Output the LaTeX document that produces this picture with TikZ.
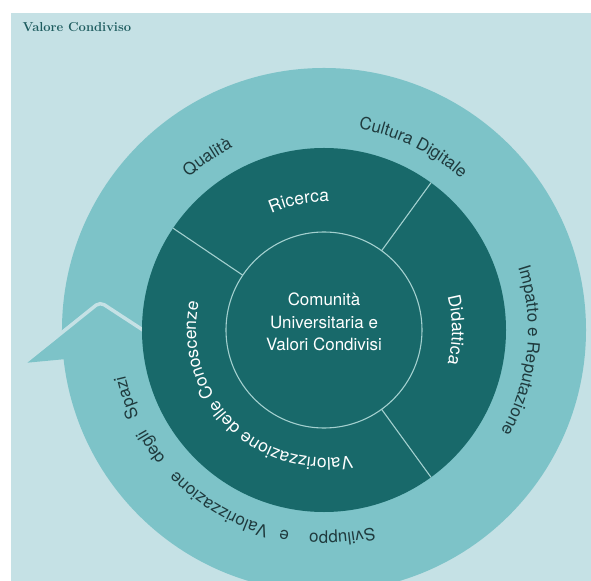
\documentclass[tikz,border=0pt]{standalone}
\usepackage{fontspec}
\setsansfont{TeX Gyre Heros}
\usepackage{tikz}
\usetikzlibrary{calc}
\usetikzlibrary{positioning}
\usetikzlibrary{decorations.text}

\definecolor{paleteal}{HTML}{C5E1E5}
\definecolor{ringteal}{HTML}{7DC3C8}
\definecolor{deepteal}{HTML}{18696A}
\definecolor{rimline}{HTML}{A3D0CF}
\definecolor{ringink}{HTML}{1F3A3D}
\definecolor{headteal}{HTML}{1D5C5F}

\newcommand{\ringfont}{\sffamily\fontsize{17}{20}\selectfont}
\newcommand{\hubfont}{\sffamily\fontsize{17.5}{20}\selectfont}

\begin{document}
\begin{tikzpicture}[x=1bp,y=1bp]
\tikzstyle{disc}=[circle,inner sep=0pt,outer sep=0pt]
\tikzstyle{arclabel}=[decorate,decoration={text along path,text align=center}]
\tikzstyle{rim}=[draw=rimline,line width=1.1bp]

\useasboundingbox (-324,-251) rectangle (267,330);
\clip (-324,-251) rectangle (267,330);
\fill[paleteal] (-313,-251) rectangle (267,317);
\node[anchor=base west,text=headteal,font=\bfseries\fontsize{13}{15}\selectfont] (title) at (-305,298) {Valore Condiviso};

\node[disc,fill=ringteal,minimum size=524bp] (loop) at (0,0) {};
\fill[ringteal,rounded corners=5bp] (-300,-33) -- (-224,28) -- (-152,-19) -- cycle;
\draw[paleteal,line width=3.5bp,rounded corners=5bp] (-300,-33) -- (-224,28) -- (-152,-19);

\node[disc,fill=deepteal,minimum size=364bp] (hub) at (0,0) {};
\node[disc,rim,minimum size=196bp] (core) at (0,0) {};
\node[text=white,align=center,font=\sffamily\fontsize{17}{22.5}\selectfont] (motto) at (0,8) {Comunità\\Universitaria e\\Valori Condivisi};

\foreach \a in {146,54,-54}
  \draw[rim] (core.\a) -- (hub.\a);

% outer ring, read clockwise
\path[arclabel,decoration={text={|\ringfont\color{ringink}|Qualità}}] (154:204bp) arc[start angle=154,end angle=94,radius=204bp];
\path[arclabel,decoration={text={|\ringfont\color{ringink}|Cultura Digitale}}] (104:204bp) arc[start angle=104,end angle=24,radius=204bp];
\path[arclabel,decoration={text={|\ringfont\color{ringink}|Impatto e Reputazione}}] (44:204bp) arc[start angle=44,end angle=-56,radius=204bp];
\path[arclabel,decoration={text={|\ringfont\color{ringink}|Sviluppo}}] (300:204bp) arc[start angle=300,end angle=250,radius=204bp];
\path[arclabel,decoration={text={|\ringfont\color{ringink}|e}}] (274:204bp) arc[start angle=274,end angle=244,radius=204bp];
\path[arclabel,decoration={text={|\ringfont\color{ringink}|Valorizzazione}}] (274:204bp) arc[start angle=274,end angle=204,radius=204bp];
\path[arclabel,decoration={text={|\ringfont\color{ringink}|degli}}] (234:204bp) arc[start angle=234,end angle=194,radius=204bp];
\path[arclabel,decoration={text={|\ringfont\color{ringink}|Spazi}}] (224:204bp) arc[start angle=224,end angle=174,radius=204bp];

% inner ring
\path[arclabel,decoration={text={|\hubfont\color{white}|Ricerca}}] (146:128bp) arc[start angle=146,end angle=56,radius=128bp];
\path[arclabel,decoration={text={|\hubfont\color{white}|Didattica}}] (50:128bp) arc[start angle=50,end angle=-50,radius=128bp];
\path[arclabel,decoration={text={|\hubfont\color{white}|Valorizzazione delle Conoscenze}}] (312:128bp) arc[start angle=312,end angle=138,radius=128bp];
\end{tikzpicture}
\end{document}
